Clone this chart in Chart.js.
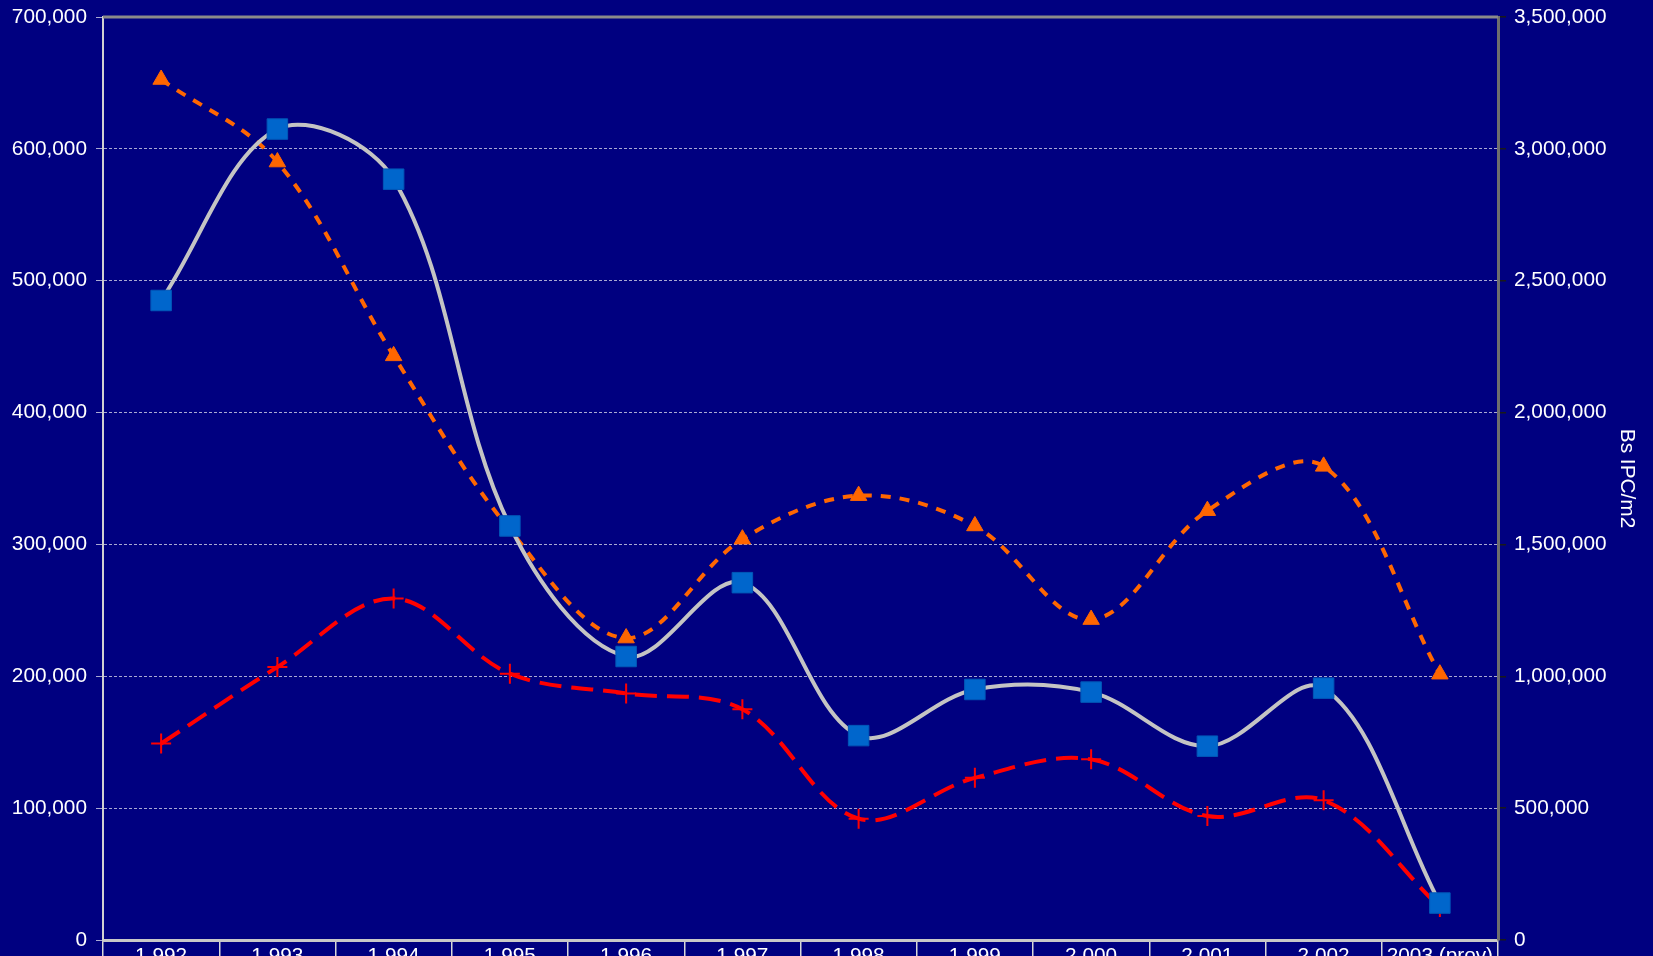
<!DOCTYPE html>
<html>
<head>
<meta charset="utf-8">
<script src="https://cdn.jsdelivr.net/npm/chart.js@4"></script>
<style>
  html, body { margin: 0; padding: 0; background: #000080; }
  #wrap { width: 1653px; height: 956px; }
</style>
</head>
<body>
<div id="wrap"><canvas id="chart"></canvas></div>
<script>
const years = ['1,992', '1,993', '1,994', '1,995', '1,996', '1,997', '1,998', '1,999', '2,000', '2,001', '2,002', '2003 (prov)'];
// left axis
const superficie = [485000, 615000, 577000, 314000, 215000, 271000, 155000, 190000, 188000, 147000, 191000, 28000];
const ventas = [149000, 207000, 259000, 202000, 187000, 175000, 92000, 123000, 137000, 94000, 106000, 25000];
// right axis, Bs IPC/m2
const precio = [3263000, 2950000, 2215000, 1556000, 1145000, 1520000, 1685000, 1570000, 1215000, 1628000, 1796000, 1008000];

const leftTicks = [0, 100000, 200000, 300000, 400000, 500000, 600000, 700000];
const rightTicks = [0, 500000, 1000000, 1500000, 2000000, 2500000, 3000000, 3500000];

const fmt = v => Number(v).toLocaleString('en-US');
const family = "'Liberation Sans', Arial, sans-serif";
// small lineHeight keeps the axis label padding from pushing the plot inward
const tickFont = { family: family, size: 20.8, lineHeight: 0.6 };
const labelFont = { family: family, size: 20.8 };

const topFrame = {
    id: 'topFrame',
    beforeDatasetsDraw(chart) {
        const a = chart.chartArea, c = chart.ctx;
        c.save();
        c.strokeStyle = '#8a8a8a';
        c.lineWidth = 3;
        c.beginPath();
        c.moveTo(a.left, a.top);
        c.lineTo(a.right, a.top);
        c.stroke();
        c.restore();
    }
};

const ctx = document.getElementById('chart');

new Chart(ctx, {
    type: 'line',
    data: {
        labels: years,
        datasets: [{
            label: 'Superficie',
            data: superficie,
            yAxisID: 'y',
            borderColor: '#c4c4c4',
            borderWidth: 4,
            tension: 0.35,
            pointStyle: 'rect',
            pointRadius: 14.5,
            pointBackgroundColor: '#0066cc',
            pointBorderColor: '#0058b8',
            pointBorderWidth: 1
        }, {
            label: 'Bs IPC/m2',
            data: precio,
            yAxisID: 'y2',
            borderColor: '#ff6600',
            borderWidth: 4,
            borderDash: [10, 9],
            tension: 0.35,
            pointStyle: 'triangle',
            pointRadius: 9.5,
            pointBackgroundColor: '#ff6600',
            pointBorderColor: '#ff6600',
            pointBorderWidth: 1
        }, {
            label: 'Ventas',
            data: ventas,
            yAxisID: 'y',
            borderColor: '#ff0000',
            borderWidth: 4,
            borderDash: [22, 10],
            tension: 0.35,
            pointStyle: 'cross',
            pointRadius: 10,
            pointBorderColor: '#ff0000',
            pointBorderWidth: 2
        }]
    },
    options: {
        responsive: true,
        maintainAspectRatio: false,
        animation: false,
        layout: { padding: { top: 17, left: 0, right: 0, bottom: 0 } },
        plugins: {
            legend: { display: false },
            tooltip: { enabled: false }
        },
        scales: {
            x: {
                offset: true,
                grid: {
                    offset: true,
                    drawOnChartArea: false,
                    drawTicks: true,
                    tickLength: 16,
                    color: '#d8d8d8',
                    lineWidth: 1.5
                },
                border: { color: '#c8c8c8', width: 3 },
                ticks: {
                    color: '#ffffff',
                    font: labelFont,
                    padding: -12,
                    autoSkip: false,
                    maxRotation: 0
                },
                afterFit(s) { s.height = 16; }
            },
            y: {
                position: 'left',
                min: 0,
                max: 700000,
                afterBuildTicks(s) { s.ticks = leftTicks.map(v => ({ value: v })); },
                grid: {
                    color: 'rgba(200,200,225,0.85)',
                    lineWidth: 1,
                    tickLength: 7
                },
                border: { color: '#d0d0d0', width: 2, dash: [3, 2] },
                ticks: {
                    color: '#ffffff',
                    font: tickFont,
                    padding: 9,
                    callback: v => fmt(v)
                },
                afterFit(s) { s.width = 103; }
            },
            y2: {
                position: 'right',
                min: 0,
                max: 3500000,
                afterBuildTicks(s) { s.ticks = rightTicks.map(v => ({ value: v })); },
                grid: {
                    drawOnChartArea: false,
                    color: '#1a1a1a',
                    lineWidth: 1.5,
                    tickLength: 8
                },
                border: { color: '#6e6e6e', width: 3 },
                ticks: {
                    color: '#ffffff',
                    font: tickFont,
                    padding: 8,
                    callback: v => fmt(v)
                },
                title: {
                    display: true,
                    text: 'Bs IPC/m2',
                    color: '#ffffff',
                    font: labelFont,
                    padding: { top: 14, bottom: 0 }
                },
                afterFit(s) { s.width = 155; }
            }
        }
    },
    plugins: [topFrame]
});
</script>
</body>
</html>
